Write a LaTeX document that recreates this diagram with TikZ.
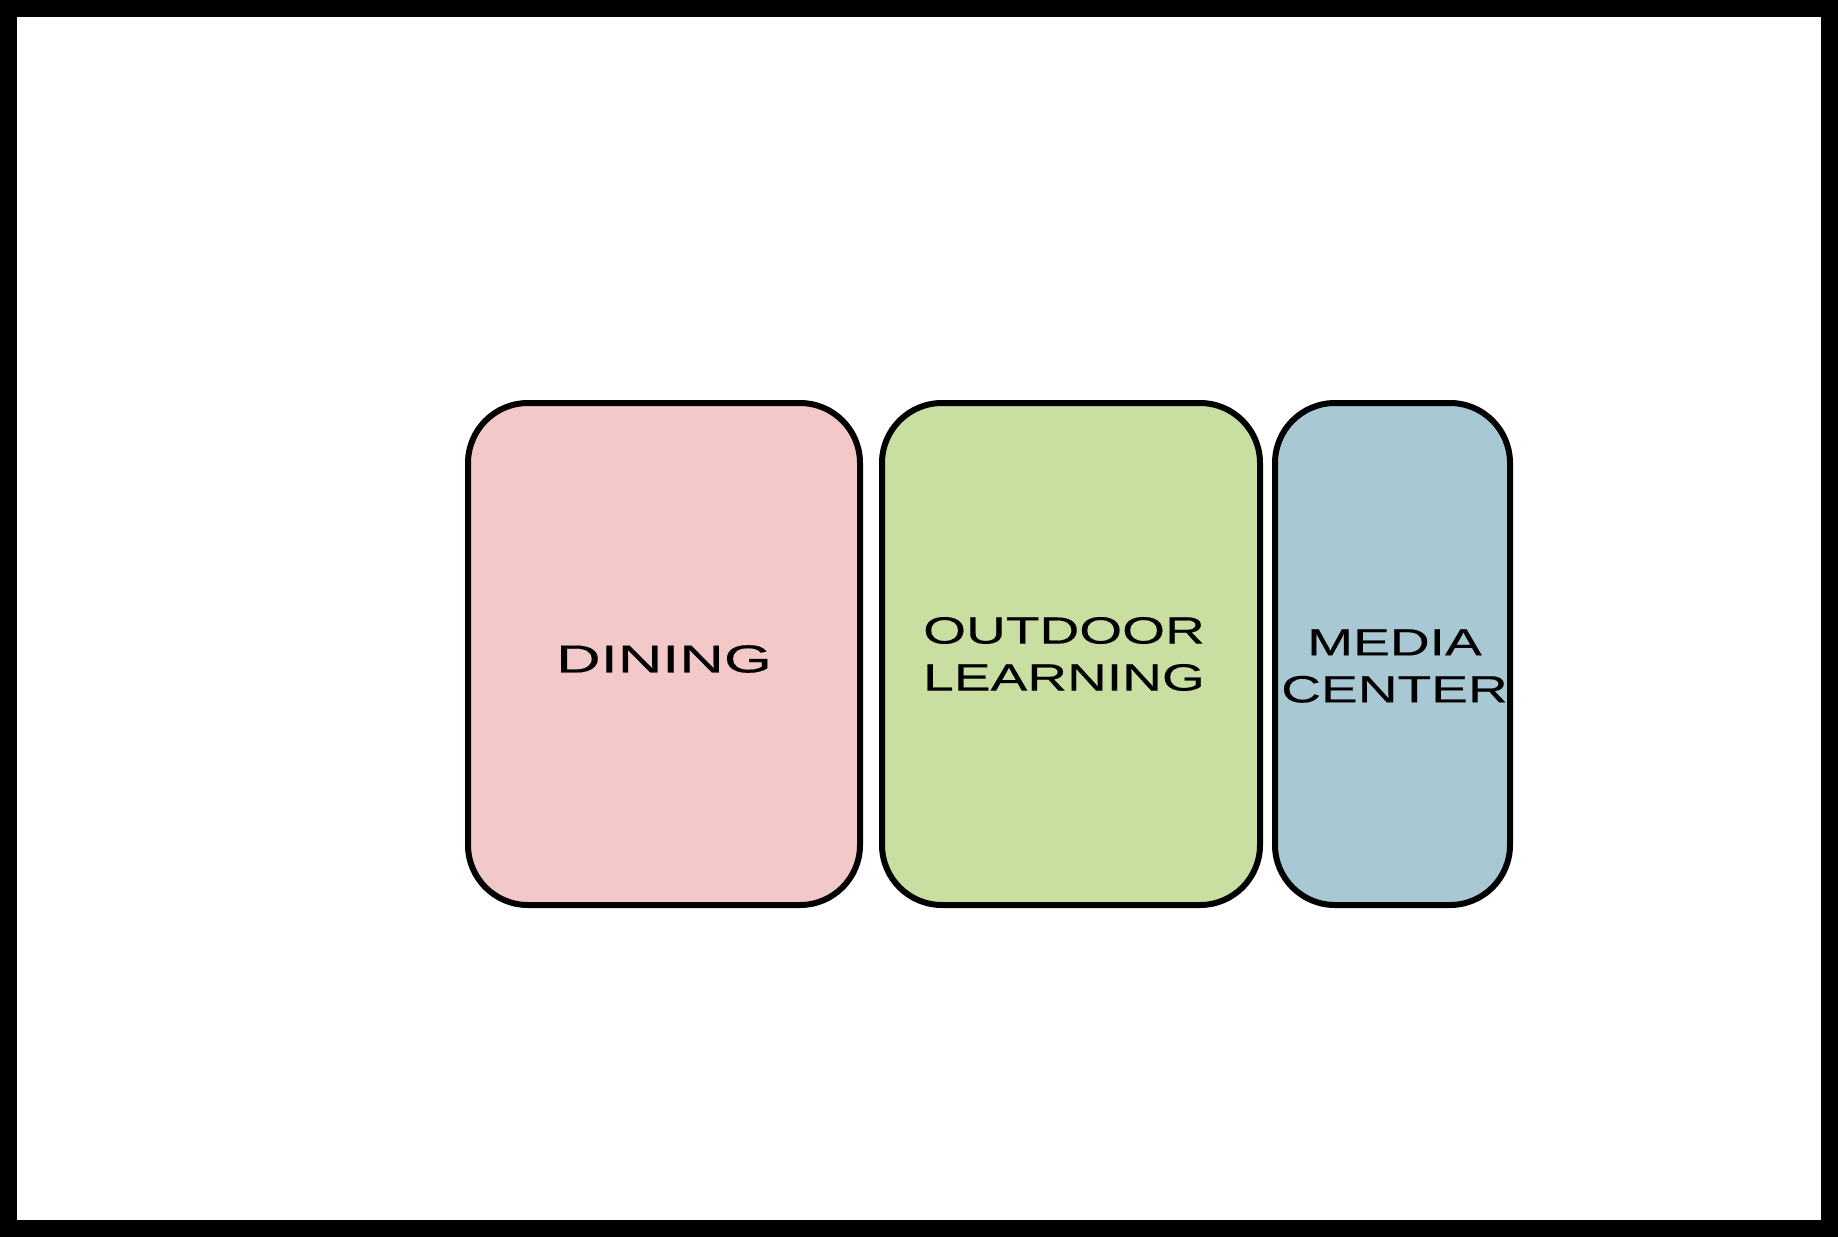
\documentclass[tikz,border=0pt]{standalone}
\usepackage{fontspec}
\newfontfamily\lblfont[FakeStretch=1.45,FakeBold=0.35]{Liberation Sans}
\newfontfamily\lblwidefont[FakeStretch=1.58,FakeBold=0.35]{Liberation Sans}
\definecolor{diningfill}{RGB}{243,200,200}
\definecolor{outdoorfill}{RGB}{201,223,161}
\definecolor{mediafill}{RGB}{168,201,211}
\tikzset{
  roombox/.style={draw=black, line width=3pt, rounded corners=30pt, minimum height=251pt, inner sep=0pt},
  roomlabel/.style={inner sep=0pt, align=center, text=black, font=\lblfont\fontsize{19pt}{23.5pt}\selectfont},
}
\begin{document}
\begin{tikzpicture}[x=0.5pt,y=-0.5pt]
\useasboundingbox (0,0) rectangle (1838,1237);
\draw[line width=8.5pt] (8.5,8.5) rectangle (1829.5,1228.5);
\node[roombox, fill=diningfill, minimum width=196pt] (dining) at (664,654) {};
\node[roombox, fill=outdoorfill, minimum width=189pt] (outdoor) at (1071,654) {};
\node[roombox, fill=mediafill, minimum width=117.5pt] (media) at (1392.5,654) {};
\node[roomlabel, font=\lblwidefont\fontsize{19.5pt}{23.5pt}\selectfont] (diningT) at ([yshift=-2.5pt]dining.center) {DINING};
\node[roomlabel] (outdoorT) at ([xshift=-3.5pt]outdoor.center) {OUTDOOR\\LEARNING};
\node[roomlabel] (mediaT) at ([xshift=1pt,yshift=-6pt]media.center) {MEDIA\\CENTER};
\end{tikzpicture}
\end{document}
